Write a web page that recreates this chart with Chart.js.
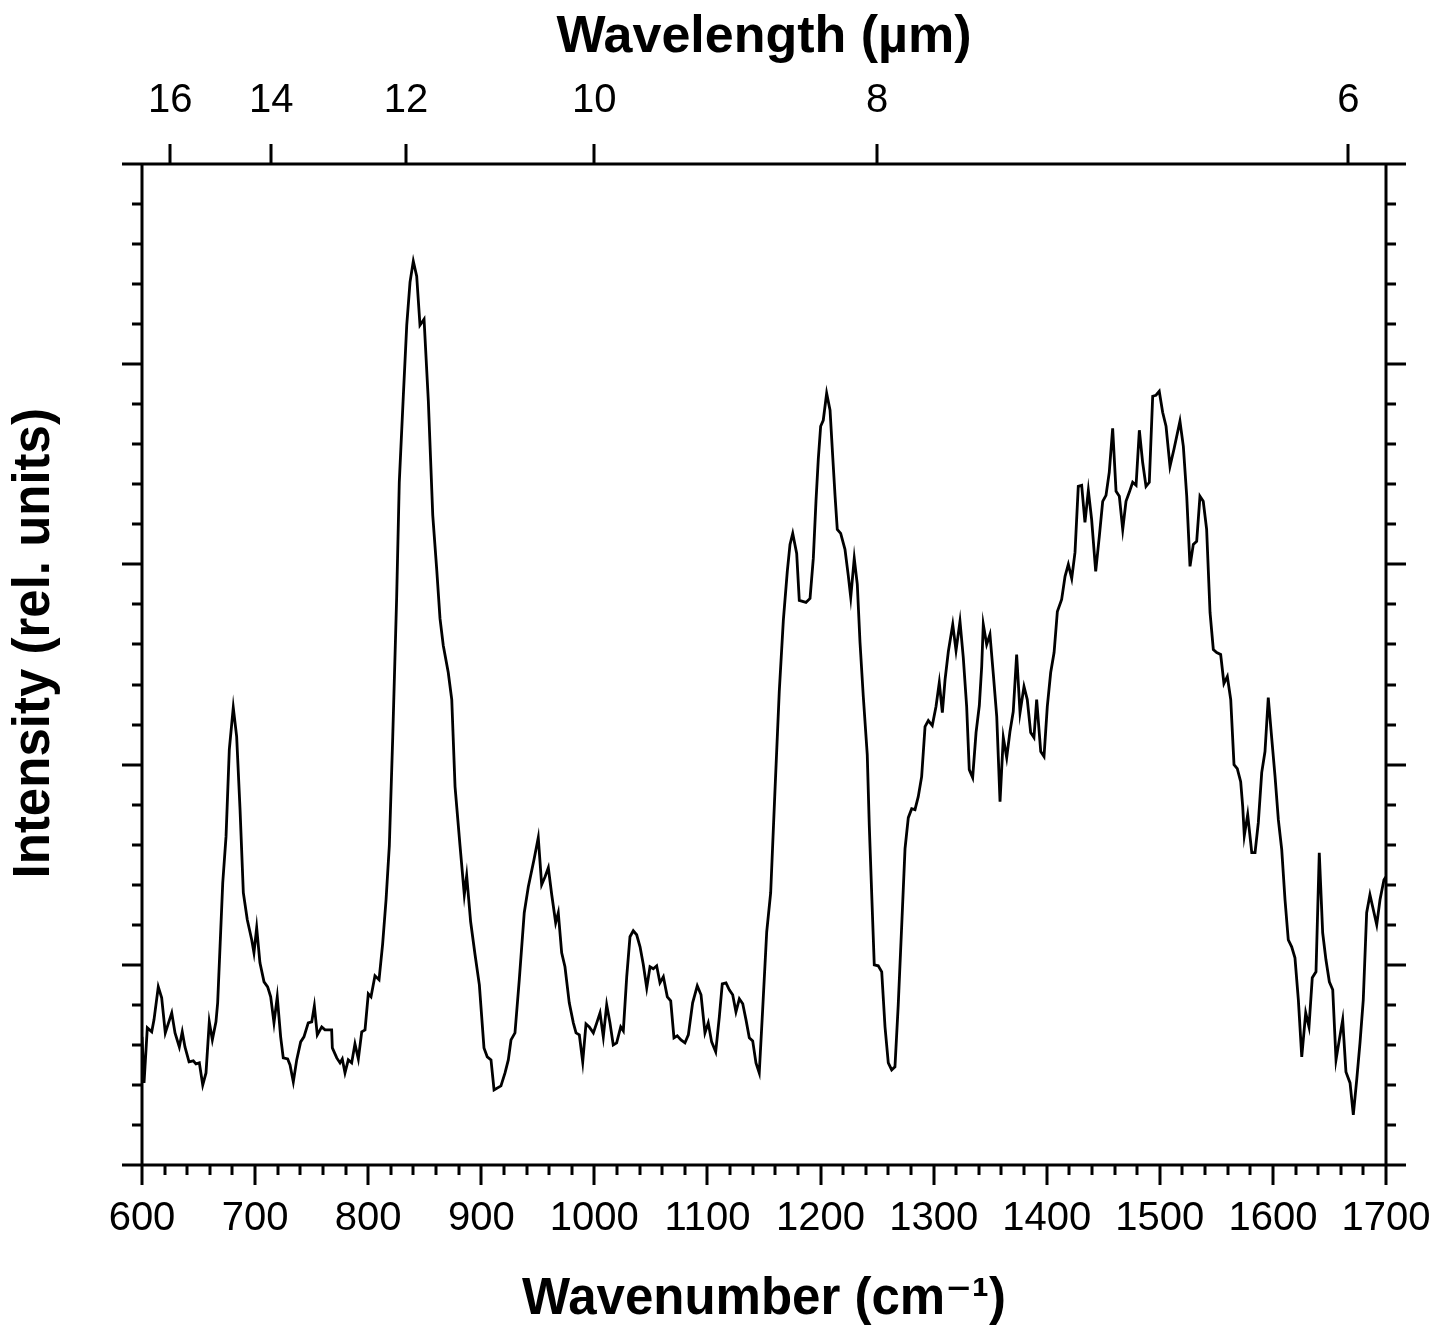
<!DOCTYPE html>
<html>
<head>
<meta charset="utf-8">
<script src="https://cdn.jsdelivr.net/npm/chart.js@4.4.1/dist/chart.umd.min.js"></script>
<style>
  html, body { margin: 0; padding: 0; background: #fff; }
</style>
</head>
<body>
<canvas id="grafico" width="1438" height="1334"></canvas>
<script>
// spectrum
const wavenumber = [600, 601.8, 604.7, 608.6, 610.6, 614.4, 617.4, 620.6, 626.3, 629.2, 633.0, 635.6, 638.0, 641.6, 645.4, 647.7, 650.7, 653.7, 656.6, 659.5,
  662.2, 665.4, 666.9, 671.4, 674.3, 677.2, 680.7, 683.7, 686.7, 689.6, 693.1, 697.0, 699.0, 701.4, 704.3, 707.9, 711.1, 713.8, 716.7, 719.6,
  722.6, 724.9, 728.8, 730.9, 733.8, 736.8, 740.3, 743.2, 747.0, 750.1, 752.4, 755.0, 758.9, 761.8, 767.7, 768.3, 772.2, 775.1, 777.1, 779.5,
  782.4, 785.4, 788.3, 791.3, 794.3, 797.2, 800.1, 802.5, 806.0, 809.6, 812.8, 815.8, 818.7, 821.7, 825.2, 827.5, 831.1, 834.1, 837.0, 839.9,
  842.9, 845.8, 849.4, 853.2, 857.1, 860.6, 863.5, 866.4, 870.8, 873.9, 876.8, 881.2, 885.0, 887.1, 890.6, 894.5, 898.3, 902.4, 905.3, 908.6,
  911.3, 917.4, 921.0, 923.9, 926.3, 929.8, 933.6, 938.0, 941.6, 946.6, 950.4, 953.4, 956.4, 959.3, 962.3, 965.8, 968.1, 971.1, 974.0, 977.8,
  981.4, 983.8, 986.7, 989.7, 992.6, 995.5, 999.1, 1002.1, 1005.0, 1007.9, 1010.9, 1013.8, 1016.7, 1019.7, 1023.3, 1025.6, 1028.6, 1031.5, 1034.4, 1037.4,
  1040.4, 1043.3, 1046.3, 1049.2, 1052.1, 1055.1, 1058.0, 1061.0, 1064.5, 1067.5, 1070.4, 1073.3, 1076.6, 1080.1, 1083.1, 1086.9, 1091.0, 1094.3, 1097.8, 1100.7,
  1103.7, 1107.3, 1110.5, 1113.1, 1116.4, 1119.3, 1122.3, 1125.2, 1128.2, 1131.2, 1134.1, 1137.0, 1140.0, 1142.9, 1145.8, 1148.8, 1152.4, 1155.9, 1159.7, 1163.5,
  1167.1, 1170.6, 1173.0, 1175.4, 1178.9, 1181.2, 1187.1, 1190.7, 1193.6, 1196.0, 1198.0, 1200.1, 1202.4, 1205.4, 1208.4, 1210.7, 1212.8, 1214.8, 1217.8, 1221.6,
  1224.5, 1226.7, 1229.8, 1232.5, 1234.9, 1237.8, 1241.3, 1243.1, 1245.2, 1247.5, 1251.0, 1254.1, 1257.0, 1259.9, 1262.9, 1265.8, 1268.7, 1271.8, 1274.7, 1277.6,
  1280.6, 1283.5, 1286.4, 1289.4, 1292.4, 1295.3, 1298.8, 1302.1, 1305.0, 1307.7, 1310.1, 1313.0, 1316.9, 1319.8, 1323.3, 1326.2, 1329.2, 1331.5, 1334.5, 1337.5,
  1340.4, 1342.5, 1343.9, 1346.9, 1349.8, 1352.8, 1355.8, 1358.7, 1361.6, 1364.6, 1367.5, 1370.4, 1373.4, 1376.4, 1379.9, 1382.8, 1385.8, 1388.7, 1391.1, 1394.7,
  1397.6, 1400.5, 1403.5, 1406.5, 1409.4, 1413.2, 1416.2, 1419.1, 1422.1, 1425.0, 1427.9, 1430.9, 1433.8, 1436.8, 1439.7, 1443.3, 1446.5, 1449.5, 1452.4, 1455.3,
  1458.3, 1461.3, 1464.2, 1467.2, 1470.1, 1473.0, 1476.0, 1479.0, 1481.9, 1484.8, 1487.8, 1490.7, 1493.7, 1496.6, 1499.5, 1502.5, 1505.5, 1509.0, 1512.5, 1517.8,
  1520.8, 1523.8, 1526.7, 1529.6, 1532.6, 1535.5, 1538.4, 1541.4, 1544.4, 1547.3, 1550.3, 1553.8, 1556.7, 1559.7, 1562.7, 1565.6, 1568.5, 1571.5, 1573.3, 1574.7,
  1577.7, 1581.3, 1584.2, 1587.1, 1590.1, 1593.0, 1595.9, 1598.9, 1601.9, 1604.8, 1607.8, 1610.7, 1613.6, 1616.6, 1619.5, 1622.5, 1625.5, 1629.0, 1631.9, 1634.8,
  1638.1, 1641.0, 1644.0, 1646.9, 1649.9, 1652.9, 1655.8, 1658.7, 1661.7, 1664.6, 1668.2, 1671.1, 1674.1, 1677.0, 1679.9, 1682.9, 1685.8, 1688.8, 1691.8, 1694.7,
  1698.2, 1700];

const intensity = [0.64, 0.41, 0.685, 0.665, 0.725, 0.89, 0.835, 0.66, 0.76, 0.66, 0.59, 0.665, 0.59, 0.515, 0.52, 0.505, 0.51, 0.40, 0.46, 0.715,
  0.625, 0.715, 0.81, 1.41, 1.64, 2.075, 2.285, 2.14, 1.775, 1.36, 1.225, 1.125, 1.06, 1.185, 1.01, 0.915, 0.89, 0.84, 0.71, 0.84,
  0.64, 0.535, 0.53, 0.50, 0.415, 0.525, 0.615, 0.64, 0.71, 0.715, 0.795, 0.65, 0.69, 0.675, 0.675, 0.585, 0.535, 0.51, 0.53, 0.46,
  0.525, 0.51, 0.605, 0.53, 0.665, 0.675, 0.855, 0.84, 0.945, 0.925, 1.105, 1.325, 1.595, 2.135, 2.84, 3.41, 3.845, 4.195, 4.41, 4.515,
  4.44, 4.195, 4.225, 3.815, 3.245, 2.975, 2.73, 2.595, 2.46, 2.325, 1.89, 1.595, 1.35, 1.445, 1.215, 1.05, 0.9, 0.585, 0.54, 0.525,
  0.375, 0.395, 0.46, 0.525, 0.625, 0.66, 0.925, 1.26, 1.39, 1.525, 1.635, 1.40, 1.44, 1.485, 1.35, 1.21, 1.26, 1.06, 0.99, 0.81,
  0.71, 0.66, 0.65, 0.515, 0.705, 0.69, 0.66, 0.71, 0.76, 0.64, 0.80, 0.71, 0.60, 0.61, 0.69, 0.67, 0.94, 1.14, 1.17, 1.15,
  1.09, 1.00, 0.885, 0.99, 0.98, 0.995, 0.91, 0.94, 0.84, 0.82, 0.635, 0.645, 0.625, 0.61, 0.65, 0.81, 0.895, 0.85, 0.66, 0.71,
  0.615, 0.565, 0.74, 0.905, 0.91, 0.875, 0.85, 0.765, 0.83, 0.805, 0.725, 0.635, 0.62, 0.51, 0.46, 0.775, 1.165, 1.36, 1.87, 2.365,
  2.72, 2.965, 3.10, 3.155, 3.055, 2.82, 2.81, 2.83, 3.03, 3.32, 3.525, 3.69, 3.72, 3.855, 3.77, 3.545, 3.345, 3.175, 3.155, 3.075,
  2.945, 2.835, 3.03, 2.90, 2.61, 2.34, 2.05, 1.695, 1.36, 1.00, 0.995, 0.965, 0.69, 0.51, 0.475, 0.49, 0.80, 1.20, 1.58, 1.735,
  1.78, 1.775, 1.84, 1.94, 2.19, 2.22, 2.195, 2.29, 2.41, 2.26, 2.425, 2.565, 2.70, 2.57, 2.715, 2.535, 2.29, 1.975, 1.935, 2.16,
  2.295, 2.49, 2.70, 2.60, 2.65, 2.45, 2.24, 1.815, 2.135, 2.035, 2.165, 2.265, 2.55, 2.26, 2.39, 2.325, 2.16, 2.135, 2.325, 2.065,
  2.04, 2.29, 2.46, 2.56, 2.765, 2.825, 2.94, 3.00, 2.93, 3.06, 3.39, 3.395, 3.21, 3.37, 3.225, 2.965, 3.14, 3.315, 3.345, 3.46,
  3.68, 3.365, 3.34, 3.175, 3.315, 3.36, 3.41, 3.395, 3.67, 3.51, 3.39, 3.41, 3.84, 3.845, 3.865, 3.76, 3.69, 3.49, 3.575, 3.715,
  3.59, 3.34, 2.99, 3.10, 3.115, 3.34, 3.315, 3.175, 2.76, 2.575, 2.56, 2.55, 2.405, 2.44, 2.325, 2.00, 1.98, 1.915, 1.79, 1.645,
  1.75, 1.56, 1.56, 1.71, 1.96, 2.065, 2.335, 2.135, 1.94, 1.725, 1.575, 1.325, 1.125, 1.09, 1.035, 0.825, 0.54, 0.76, 0.69, 0.935,
  0.965, 1.56, 1.16, 1.025, 0.915, 0.875, 0.525, 0.625, 0.725, 0.465, 0.41, 0.25, 0.425, 0.61, 0.825, 1.26, 1.35, 1.275, 1.20, 1.325,
  1.425, 1.44];

// axes
const xMin = 600, xMax = 1700, xMajor = 100, xMinor = 20;
const yMin = 0, yMax = 5, yMajor = 1, yMinor = 0.2;
const topWavelengths = [16, 14, 12, 10, 8, 6]; // µm, placed at 10000/λ cm-1

const fuente = '"Liberation Sans", Arial, "DejaVu Sans", sans-serif';

const marcoPlugin = {
  id: 'marco',
  afterDraw(chart) {
    const ctx = chart.ctx;
    const a = chart.chartArea;
    const sx = chart.scales.x;
    const sy = chart.scales.y;
    const largo = 20, corto = 10;
    ctx.save();
    ctx.strokeStyle = '#000';
    ctx.lineWidth = 3;
    ctx.lineCap = 'butt';
    ctx.beginPath();
    // frame, horizontal lines run out to the tick length
    ctx.moveTo(a.left - largo, a.top); ctx.lineTo(a.right + largo, a.top);
    ctx.moveTo(a.left - largo, a.bottom); ctx.lineTo(a.right + largo, a.bottom);
    ctx.moveTo(a.left, a.top); ctx.lineTo(a.left, a.bottom);
    ctx.moveTo(a.right, a.top); ctx.lineTo(a.right, a.bottom);
    // bottom ticks
    for (let v = xMin; v <= xMax + 1e-6; v += xMinor) {
      const px = Math.round(sx.getPixelForValue(v));
      const l = (Math.abs(v / xMajor - Math.round(v / xMajor)) < 1e-6) ? largo : corto;
      ctx.moveTo(px, a.bottom); ctx.lineTo(px, a.bottom + l);
    }
    // top ticks (wavelength)
    topWavelengths.forEach(w => {
      const px = Math.round(sx.getPixelForValue(10000 / w));
      ctx.moveTo(px, a.top); ctx.lineTo(px, a.top - largo);
    });
    // left and right ticks
    for (let v = yMin; v <= yMax + 1e-6; v += yMinor) {
      const py = Math.round(sy.getPixelForValue(v));
      const l = (Math.abs(v / yMajor - Math.round(v / yMajor)) < 1e-6) ? largo : corto;
      ctx.moveTo(a.left, py); ctx.lineTo(a.left - l, py);
      ctx.moveTo(a.right, py); ctx.lineTo(a.right + l, py);
    }
    ctx.stroke();
    ctx.restore();
  }
};

const puntos = wavenumber.map((x, i) => ({ x: x, y: intensity[i] }));

new Chart(document.getElementById('grafico').getContext('2d'), {
  type: 'line',
  data: {
    datasets: [{
      data: puntos,
      borderColor: '#000',
      borderWidth: 2.8,
      pointRadius: 0,
      tension: 0,
      fill: false
    }]
  },
  options: {
    responsive: false,
    animation: false,
    layout: { padding: 0 },
    plugins: { legend: { display: false }, tooltip: { enabled: false } },
    scales: {
      x: {
        type: 'linear',
        position: 'bottom',
        min: xMin,
        max: xMax,
        grid: { display: false, drawTicks: false },
        border: { display: false },
        ticks: {
          stepSize: xMajor,
          autoSkip: false,
          maxRotation: 0,
          minRotation: 0,
          padding: 30,
          color: '#000',
          font: { family: fuente, size: 40 },
          callback: (v) => String(v)
        },
        title: {
          display: true,
          text: 'Wavenumber (cm⁻¹)',
          color: '#000',
          font: { family: fuente, size: 51, weight: 'bold' },
          padding: { top: 0, bottom: 3 }
        },
        afterFit: (s) => { s.height = 169; s.paddingLeft = 0; s.paddingRight = 0; }
      },
      x2: {
        type: 'linear',
        position: 'top',
        min: xMin,
        max: xMax,
        grid: { display: false, drawTicks: false },
        border: { display: false },
        afterBuildTicks: (s) => { s.ticks = topWavelengths.map(w => ({ value: 10000 / w })); },
        ticks: {
          autoSkip: false,
          maxRotation: 0,
          minRotation: 0,
          padding: 39,
          color: '#000',
          font: { family: fuente, size: 40 },
          callback: (v) => String(Math.round(10000 / v))
        },
        title: {
          display: true,
          text: 'Wavelength (µm)',
          color: '#000',
          font: { family: fuente, size: 52, weight: 'bold' },
          padding: { top: 6, bottom: 0 }
        },
        afterFit: (s) => { s.height = 164; s.paddingLeft = 0; s.paddingRight = 0; }
      },
      y: {
        type: 'linear',
        position: 'left',
        min: yMin,
        max: yMax,
        grid: { display: false, drawTicks: false },
        border: { display: false },
        ticks: { display: false, stepSize: yMinor },
        title: {
          display: true,
          // leading spaces lift the rotated title a little, as in the original
          text: '   Intensity (rel. units)',
          color: '#000',
          font: { family: fuente, size: 51, weight: 'bold' },
          padding: { top: 4, bottom: 0 }
        },
        afterFit: (s) => { s.width = 142; }
      },
      y2: {
        type: 'linear',
        position: 'right',
        min: yMin,
        max: yMax,
        grid: { display: false, drawTicks: false },
        border: { display: false },
        ticks: { display: false },
        afterFit: (s) => { s.width = 52; }
      }
    }
  },
  plugins: [marcoPlugin]
});
</script>
</body>
</html>
